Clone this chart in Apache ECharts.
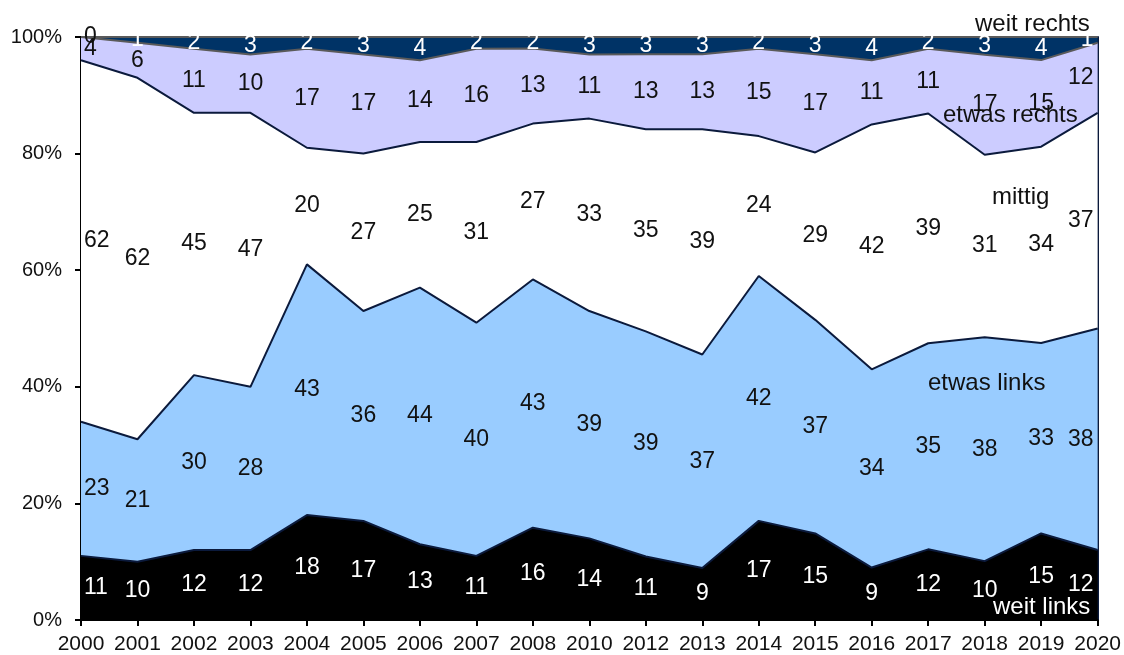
<!DOCTYPE html>
<html><head><meta charset="utf-8">
<script src="https://cdn.jsdelivr.net/npm/echarts@6/dist/echarts.min.js"></script>
<style>html,body{margin:0;padding:0;background:#fff}#c{width:1124px;height:655px}</style>
</head><body><div id="c"></div>
<script>
const years = ['2000','2001','2002','2003','2004','2005','2006','2007','2008','2010','2012','2013','2014','2015','2016','2017','2018','2019','2020'];
const weitLinks   = [11,10,12,12,18,17,13,11,16,14,11, 9,17,15, 9,12,10,15,12];
const etwasLinks  = [23,21,30,28,43,36,44,40,43,39,39,37,42,37,34,35,38,33,38];
const mittig      = [62,62,45,47,20,27,25,31,27,33,35,39,24,29,42,39,31,34,37];
const etwasRechts = [ 4, 6,11,10,17,17,14,16,13,11,13,13,15,17,11,11,17,15,12];
const weitRechts  = [ 0, 1, 2, 3, 2, 3, 4, 2, 2, 3, 3, 3, 2, 3, 4, 2, 3, 4, 1];
const yTicks = [0,20,40,60,80,100];

const raw = [weitLinks, etwasLinks, mittig, etwasRechts, weitRechts];
const names = ['weit links','etwas links','mittig','etwas rechts','weit rechts'];
const fills = ['#000000','#99ccff','#ffffff','#ccccff','#003366'];
const lineCols = ['#0b1a3c','#0b1a3c','#0b1a3c','#5a5a5a','#5a5a5a'];
const labelCols = ['#ffffff','#111111','#111111','#111111','#ffffff'];

const sums = years.map((_, i) => raw.reduce((s, a) => s + a[i], 0));
const pct = raw.map(a => a.map((v, i) => v / sums[i] * 100));

const FONT = '"Liberation Sans", Arial, sans-serif';
const series = [];
pct.forEach((arr, k) => {
  series.push({
    name: names[k], type: 'line', stack: 'all', data: arr,
    symbol: 'none', smooth: false,
    lineStyle: { color: lineCols[k], width: 2 },
    areaStyle: { color: fills[k], opacity: 1 },
    z: 2
  });
});
const labelData = [];
pct.forEach((arr, k) => {
  arr.forEach((v, i) => {
    let base = 0;
    for (let j = 0; j < k; j++) base += pct[j][i];
    const item = { value: [i, base + v / 2], raw: raw[k][i],
      label: { color: (k === 4 && i === 0) ? '#111' : labelCols[k] } };
    if (i === 0) { item.label.align = 'left'; item.label.offset = [3, 0]; }
    if (i === years.length - 1) { item.label.align = 'right'; item.label.offset = [-4, 0]; }
    labelData.push(item);
  });
});
series.push({
  type: 'scatter', data: labelData, symbolSize: 1,
  itemStyle: { color: 'rgba(0,0,0,0)' }, z: 10, silent: true,
  label: { show: true, position: 'inside', fontSize: 23, fontFamily: FONT,
    textBorderWidth: 0, textShadowBlur: 0, opacity: 1,
    formatter: p => String(p.data.raw) }
});

const chart = echarts.init(document.getElementById('c'));
chart.setOption({
  animation: false,
  grid: { left: 81, right: 24, top: 37, bottom: 34, containLabel: false },
  xAxis: { type: 'category', data: years, boundaryGap: false,
    axisLine: { lineStyle: { color: '#000', width: 2 } },
    axisTick: { show: true, alignWithLabel: true, length: 6, lineStyle: { color: '#000', width: 2 } },
    axisLabel: { color: '#111', fontSize: 21, fontFamily: FONT, margin: 14, interval: 0 },
    splitLine: { show: false } },
  yAxis: [{ type: 'value', min: yTicks[0], max: yTicks[yTicks.length-1], interval: 20,
    axisLine: { show: true, lineStyle: { color: '#000', width: 2 } },
    axisTick: { show: true, length: 6, lineStyle: { color: '#000', width: 2 } },
    axisLabel: { color: '#111', fontSize: 20, fontFamily: FONT, margin: 19, formatter: '{value}%' },
    splitLine: { show: false } },
    { type: 'value', min: 0, max: 100, position: 'right',
    axisLine: { show: true, lineStyle: { color: '#0b1a3c', width: 2 } },
    axisTick: { show: false }, axisLabel: { show: false }, splitLine: { show: false } }],
  graphic: [
    { type: 'text', left: 975, top: 12, z: 100, style: { text: 'weit rechts', fill: '#111', font: '24px ' + FONT } },
    { type: 'text', left: 943, top: 103, z: 100, style: { text: 'etwas rechts', fill: '#111', font: '24px ' + FONT } },
    { type: 'text', left: 992, top: 185, z: 100, style: { text: 'mittig', fill: '#111', font: '24px ' + FONT } },
    { type: 'text', left: 928, top: 371, z: 100, style: { text: 'etwas links', fill: '#111', font: '24px ' + FONT } },
    { type: 'text', left: 993, top: 595, z: 100, style: { text: 'weit links', fill: '#fff', font: '24px ' + FONT } }
  ],
  series: series
});
</script></body></html>
